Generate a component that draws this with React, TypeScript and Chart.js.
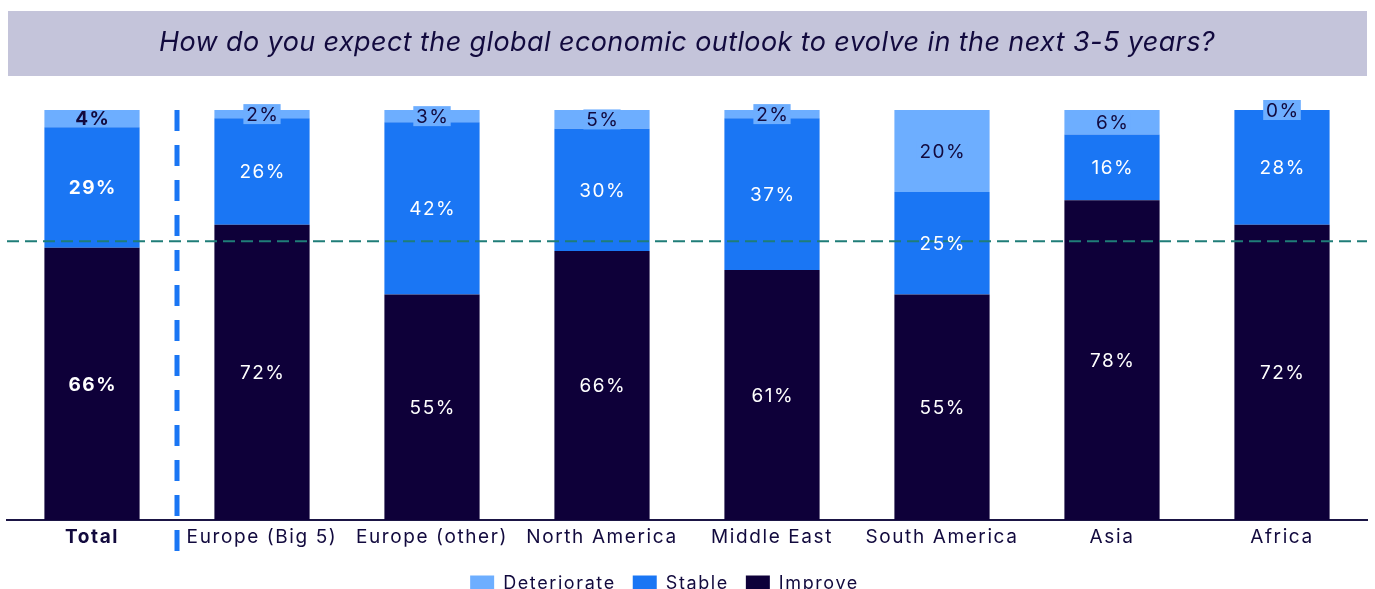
import { useEffect, useRef } from 'react';
import { Chart, registerables } from 'chart.js';

Chart.register(...registerables);

const titleText = 'How do you expect the global economic outlook to evolve in the next 3-5 years?';
const categories = ['Total', 'Europe (Big 5)', 'Europe (other)', 'North America', 'Middle East', 'South America', 'Asia', 'Africa'];
const improve = [66.4, 72, 55, 65.6, 61, 55, 78, 72];
const stable = [29.4, 26, 42, 29.8, 37, 25, 16, 28];
const deteriorate = [4.2, 2, 3, 4.6, 2, 20, 6, 0];
const referenceLine = 68;

const NAVY = '#120a3e';
const C_DET = '#6daeff';
const C_STA = '#1a76f4';
const C_IMP = '#0e0039';
const FONT = 'Inter';
const SPACING = '1.6px';

const spacingPlugin = {
  id: 'spacing',
  beforeUpdate(chart: any) { chart.ctx.letterSpacing = SPACING; },
  beforeLayout(chart: any) { chart.ctx.letterSpacing = SPACING; },
  afterLayout(chart: any) {
    if (chart.legend) { chart.legend.left -= 45; }
  },
};

const decorPlugin = {
  id: 'decor',
  beforeDraw(chart: any) {
    const ctx = chart.ctx;
    ctx.letterSpacing = SPACING;
    ctx.save();
    ctx.fillStyle = '#c4c4da';
    ctx.fillRect(8, 11, 1359, 65);
    ctx.fillStyle = NAVY;
    ctx.letterSpacing = '0.4px';
    ctx.font = `italic 27px ${FONT}`;
    ctx.textAlign = 'center';
    ctx.textBaseline = 'middle';
    ctx.fillText(titleText, 687, 43);
    ctx.restore();
  },
  afterDatasetsDraw(chart: any) {
    const ctx = chart.ctx;
    const xs = chart.scales.x;
    const ys = chart.scales.y;
    const area = chart.chartArea;
    ctx.save();
    const yRef = ys.getPixelForValue(referenceLine);
    ctx.strokeStyle = '#1f7d78';
    ctx.lineWidth = 2;
    ctx.setLineDash([12, 6]);
    ctx.beginPath();
    ctx.moveTo(area.left, yRef);
    ctx.lineTo(area.right, yRef);
    ctx.stroke();
    const xSep = xs.getPixelForValue(0.5);
    ctx.strokeStyle = C_STA;
    ctx.lineWidth = 5;
    ctx.setLineDash([21, 14]);
    ctx.beginPath();
    ctx.moveTo(xSep, area.top);
    ctx.lineTo(xSep, area.bottom + 32);
    ctx.stroke();
    ctx.setLineDash([]);
    ctx.letterSpacing = '1.5px';
    chart.data.datasets.forEach((ds: any, di: number) => {
      const meta = chart.getDatasetMeta(di);
      meta.data.forEach((el: any, i: number) => {
        const v = ds.data[i];
        const text = Math.round(v) + '%';
        const cy = (el.y + el.base) / 2;
        const cx = el.x + 0.75;
        const bold = i === 0;
        ctx.font = `${bold ? 'bold ' : ''}19px ${FONT}`;
        ctx.textAlign = 'center';
        ctx.textBaseline = 'middle';
        if (ds.label === 'Deteriorate') {
          const w = ctx.measureText(text).width + 4;
          if (!bold) {
            ctx.fillStyle = C_DET;
            ctx.fillRect(cx - w / 2 - 0.75, cy - 10, w, 20);
          }
          ctx.fillStyle = NAVY;
        } else {
          ctx.fillStyle = '#ffffff';
        }
        ctx.fillText(text, cx, cy + 1);
      });
    });
    ctx.restore();
  },
};

export default function App() {
  const ref = useRef<HTMLCanvasElement>(null);
  useEffect(() => {
    if (!ref.current) return;
    const chart = new Chart(ref.current, {
      type: 'bar',
      data: {
        labels: categories,
        datasets: [
          { label: 'Deteriorate', data: deteriorate, backgroundColor: C_DET, order: 3 } as any,
          { label: 'Stable', data: stable, backgroundColor: C_STA, order: 2 },
          { label: 'Improve', data: improve, backgroundColor: C_IMP, order: 1 },
        ],
      },
      options: {
        responsive: false,
        animation: false,
        devicePixelRatio: 1,
        layout: { padding: { top: 110, left: 7, right: 8, bottom: 0 } },
        datasets: { bar: { barPercentage: 0.56, categoryPercentage: 1, borderWidth: 0 } },
        plugins: {
          tooltip: { enabled: false },
          title: { display: false },
          legend: {
            position: 'bottom',
            labels: {
              boxWidth: 24,
              boxHeight: 17,
              padding: 17,
              color: NAVY,
              font: { family: FONT, size: 18 },
              generateLabels: (c: any) =>
                c.data.datasets.map((d: any, i: number) => ({
                  text: d.label,
                  fillStyle: d.backgroundColor,
                  strokeStyle: d.backgroundColor,
                  lineWidth: 0,
                  hidden: false,
                  datasetIndex: i,
                  fontColor: NAVY,
                })),
            },
          },
        },
        scales: {
          x: {
            stacked: true,
            grid: { display: false },
            border: { display: true, color: '#1b1545', width: 2 },
            afterFit: (s: any) => { s.height = 38; },
            ticks: {
              color: NAVY,
              padding: -2,
              maxRotation: 0,
              autoSkip: false,
              font: (c: any) => ({ family: FONT, size: 19, weight: c.index === 0 ? 'bold' : 'normal' }),
            },
          },
          y: {
            stacked: true,
            display: false,
            min: 0,
            max: 100,
          },
        },
      },
      plugins: [spacingPlugin, decorPlugin],
    });
    return () => chart.destroy();
  }, []);
  return (
    <div style={{ position: 'fixed', left: 0, top: 0, width: 1375, height: 603, background: '#fff' }}>
      <canvas ref={ref} width={1375} height={603} style={{ display: 'block' }} />
    </div>
  );
}
